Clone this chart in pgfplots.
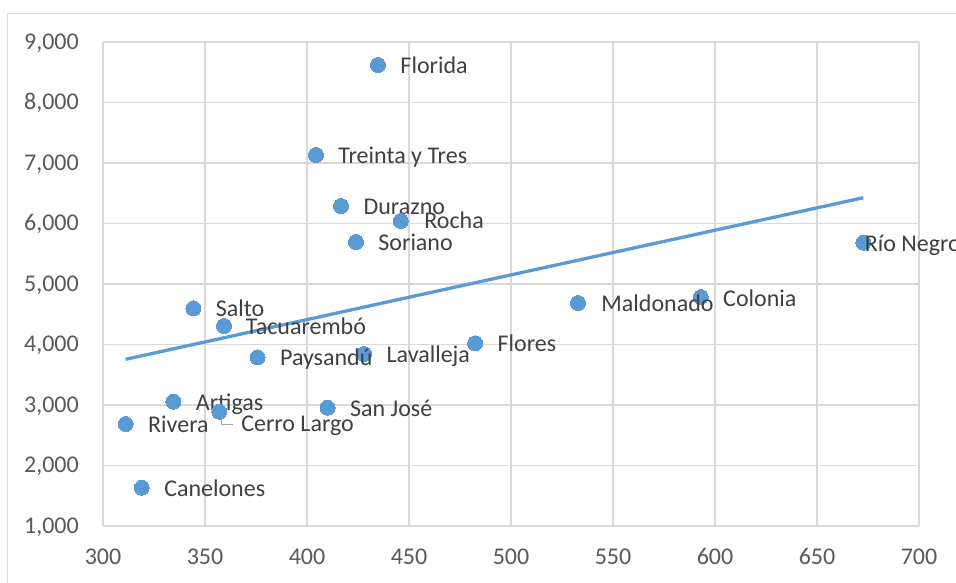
\documentclass[border=0pt]{standalone}
\usepackage{pgfplots}
\pgfplotsset{compat=1.18}
\usepackage{pgfplotstable}
\usepackage{fontspec}
\setmainfont{Carlito}
\definecolor{dotc}{HTML}{5B9BD5}
\definecolor{gridc}{HTML}{D9D9D9}
\definecolor{tickc}{HTML}{595959}
\definecolor{lblc}{HTML}{404040}
\definecolor{leadc}{HTML}{A6A6A6}

\pgfplotstableread{
x y dx dy name
434.8 8620 22.5 -2.5 Florida
404.4 7132 22.5 -2.5 {Treinta y Tres}
416.7 6289 22.5 -2.5 Durazno
446.0 6041 23.5 -1.6 Rocha
424.0 5694 22.5 -2.5 Soriano
672.7 5683 1.5 -3.1 {Río Negro}
593.0 4785 22.5 -3.3 Colonia
532.8 4686 23.5 -2.5 Maldonado
344.3 4598 22.5 -2.5 Salto
359.3 4306 22.0 -2.2 Tacuarembó
482.4 4020 22.5 -2.5 Flores
428.0 3843 22.5 -2.5 Lavalleja
375.8 3788 22.5 -2.5 Paysandú
334.5 3055 22.5 -2.5 Artigas
410.1 2955 22.5 -2.5 {San José}
357.0 2889 22.0 -14.1 {Cerro Largo}
311.1 2686 22.5 -2.5 Rivera
319.0 1633 22.5 -2.5 Canelones
}\datatable

\begin{document}
\begin{tikzpicture}
\useasboundingbox (-103pt,-57pt) rectangle (853pt,526pt);
\fill[white] (-103pt,-57pt) rectangle (853pt,526pt);
\clip (-103pt,-57pt) rectangle (853pt,526pt);
\draw[gridc, line width=1.2pt] (-95.3pt,-100pt) -- (-95.3pt,512.7pt) -- (900pt,512.7pt);
\begin{axis}[
  at={(0pt,0pt)}, anchor=south west,
  scale only axis, width=816pt, height=484pt,
  xmin=300, xmax=700, ymin=1000, ymax=9000,
  xtick distance=50, ytick distance=1000,
  grid=major, grid style={gridc, line width=1.3pt},
  axis line style={draw=none},
  major tick length=0pt,
  scaled ticks=false,
  /pgf/number format/assume math mode=true,
  /pgf/number format/1000 sep={,},
  tick label style={font=\fontsize{24}{29}\selectfont, text=tickc},
  yticklabel style={anchor=base east, inner sep=0pt, xshift=-24pt, yshift=-7.4pt},
  xticklabel style={anchor=base, inner sep=0pt, yshift=-39pt},
  clip=false,
]
\addplot[only marks, mark=*, mark size=7.5pt, mark options={fill=dotc, draw=dotc, line width=0pt},
  point meta=explicit symbolic,
  visualization depends on={\thisrow{dx}\as\dx},
  visualization depends on={\thisrow{dy}\as\dy},
  nodes near coords,
  nodes near coords style={anchor=west, inner sep=0pt, text height=18pt, text depth=6pt,
    font=\fontsize{24}{29}\selectfont, text=lblc, xshift=\dx pt, yshift=\dy pt},
] table[x=x, y=y, meta=name] {\datatable};
\addplot[leadc, line width=1.2pt, no marks] coordinates {(358.2,2807) (358.2,2674) (363.7,2674)};
\addplot[dotc, line width=3.3pt, no marks] coordinates {(311.1,3755) (672.7,6426)};
\end{axis}
\end{tikzpicture}
\end{document}
